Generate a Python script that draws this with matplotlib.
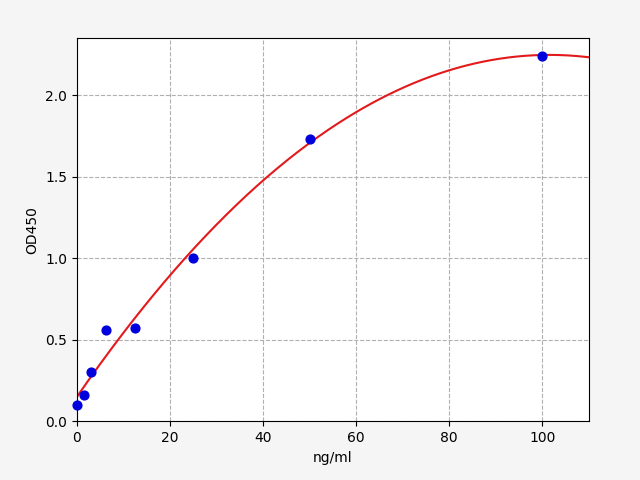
import numpy as np
import matplotlib
matplotlib.use("Agg")
import matplotlib.pyplot as plt

conc = [0, 1.56, 3.125, 6.25, 12.5, 25, 50, 100]
od = [0.1, 0.165, 0.305, 0.56, 0.575, 1.005, 1.735, 2.245]

fig, ax = plt.subplots(figsize=(6.4, 4.8), dpi=100)
fig.subplots_adjust(left=0.12, right=0.92, top=0.92, bottom=0.122)
fig.patch.set_facecolor("#f5f5f5")
coef = np.polyfit(conc, od, 2)
xs = np.linspace(0, 110, 300)
ax.plot(xs, np.polyval(coef, xs), color="#e31a1c", lw=1.5, zorder=2)
ax.scatter(conc, od, color="#0000dd", s=40, zorder=3, clip_on=False)
ax.set_xlim(0, 110)
ax.set_ylim(0, 2.35)
ax.set_yticks([0.0, 0.5, 1.0, 1.5, 2.0])
ax.grid(True, linestyle="--", color="#b0b0b0")
ax.set_axisbelow(True)
ax.set_xlabel("ng/ml")
ax.set_ylabel("OD450")
fig.savefig("out.png")
